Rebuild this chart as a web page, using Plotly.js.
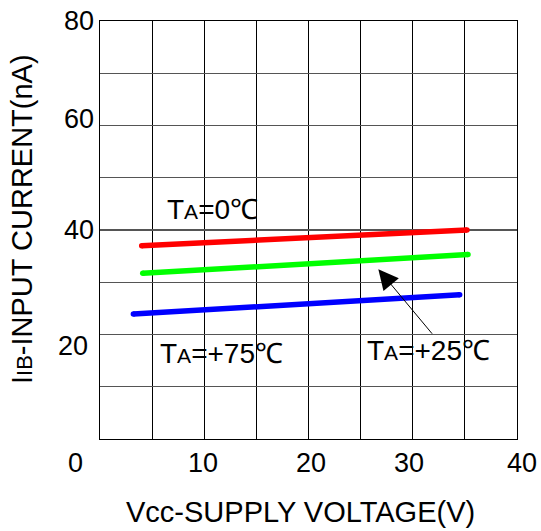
<!DOCTYPE html>
<html>
<head>
<meta charset="utf-8">
<script src="https://cdn.plot.ly/plotly-3.0.1.min.js"></script>
<style>html,body{margin:0;padding:0;background:#fff;}#chart{width:541px;height:531px;}</style>
</head>
<body>
<div id="chart"></div>
<script>
// Data
const seriesNames = ["TA=0℃", "TA=+25℃", "TA=+75℃"];
const vcc0 = [4.0, 35.2];
const iib0 = [37.0, 40.0];
const vcc25 = [4.1, 35.3];
const iib25 = [31.7, 35.3];
const vcc75 = [3.2, 34.5];
const iib75 = [23.9, 27.6];
const colors = ["#ff0000", "#00ff00", "#0000ff"];

const xTickVals = [10, 20, 30, 40];
const xTickText = ["10", "20", "30", "40"];
const yTickVals = [80, 60, 40, 20, 0];
const yTickText = ["80", "60", "40", "20", "0"];

const FONT = "Liberation Sans, Arial, sans-serif";
const xs = [vcc0, vcc25, vcc75];
const ys = [iib0, iib25, iib75];

const traces = xs.map((x, i) => ({
  x: x, y: ys[i], type: "scatter", mode: "lines+markers",
  name: seriesNames[i],
  line: {color: colors[i], width: 5.5},
  marker: {color: colors[i], size: 5.5},
  hoverinfo: "skip", showlegend: false
}));

const annotations = [];
// y tick labels (small pixel offsets as in the reference)
const yShift = [0, 7, 0, -11, -24];
const yXShift = [-4, -4, -4, -10, -15];
yTickVals.forEach((v, i) => annotations.push({
  xref: "paper", yref: "y", x: 0, y: v, text: yTickText[i],
  showarrow: false, xanchor: "right", yanchor: "middle",
  xshift: yXShift[i], yshift: yShift[i],
  font: {family: FONT, size: 27, color: "#000"}
}));
// x tick labels
const xShift = [-1, 2, -4, 5];
xTickVals.forEach((v, i) => annotations.push({
  xref: "x", yref: "paper", x: v, y: 0, text: xTickText[i],
  showarrow: false, xanchor: "center", yanchor: "middle",
  xshift: xShift[i], yshift: -24,
  font: {family: FONT, size: 27, color: "#000"}
}));
// axis titles
annotations.push({
  xref: "paper", yref: "paper", x: 0, y: 0.5, text: "I<span style='font-size:22px'>IB</span>-INPUT CURRENT(nA)",
  showarrow: false, textangle: -90, xanchor: "center", yanchor: "middle",
  xshift: -78, yshift: 11,
  font: {family: FONT, size: 29, color: "#000"}
});
annotations.push({
  xref: "paper", yref: "paper", x: 0.5, y: 0, text: "Vcc-SUPPLY VOLTAGE(V)",
  showarrow: false, xanchor: "center", yanchor: "middle",
  xshift: -8, yshift: -73,
  font: {family: FONT, size: 29, color: "#000"}
});
// series labels
const sub = t => t.replace("TA", "T<span style='font-size:21px'>A</span>");
annotations.push({x: 10.75, y: 44.0, xref: "x", yref: "y", text: sub(seriesNames[0]), showarrow: false,
  font: {family: FONT, size: 28, color: "#000"}});
annotations.push({x: 11.7, y: 16.3, xref: "x", yref: "y", text: sub(seriesNames[2]), showarrow: false,
  font: {family: FONT, size: 28, color: "#000"}});
annotations.push({x: 31.5, y: 17.0, xref: "x", yref: "y", text: sub(seriesNames[1]), showarrow: false,
  font: {family: FONT, size: 28, color: "#000"}});
// arrow pointing to the +25 line
annotations.push({x: 26.7, y: 32.5, xref: "x", yref: "y", ax: 55, ay: 66, text: "",
  showarrow: true, arrowhead: 2, arrowsize: 4, arrowwidth: 1, arrowcolor: "#000"});

const layout = {
  width: 541, height: 531,
  margin: {l: 100, r: 24, t: 21, b: 92, pad: 0},
  paper_bgcolor: "#fff", plot_bgcolor: "#fff",
  showlegend: false,
  xaxis: {range: [0, 40], dtick: 5, tick0: 0, showticklabels: false, ticks: "",
    showgrid: true, gridcolor: "#000", gridwidth: 1, zeroline: false,
    showline: true, linecolor: "#000", linewidth: 1.3, mirror: true, fixedrange: true},
  yaxis: {range: [0, 80], dtick: 10, tick0: 0, showticklabels: false, ticks: "",
    showgrid: true, gridcolor: "#555", gridwidth: 1.3, zeroline: false,
    showline: true, linecolor: "#000", linewidth: 1.3, mirror: true, fixedrange: true},
  annotations: annotations
};

Plotly.newPlot("chart", traces, layout, {staticPlot: true, displayModeBar: false});
</script>
</body>
</html>
